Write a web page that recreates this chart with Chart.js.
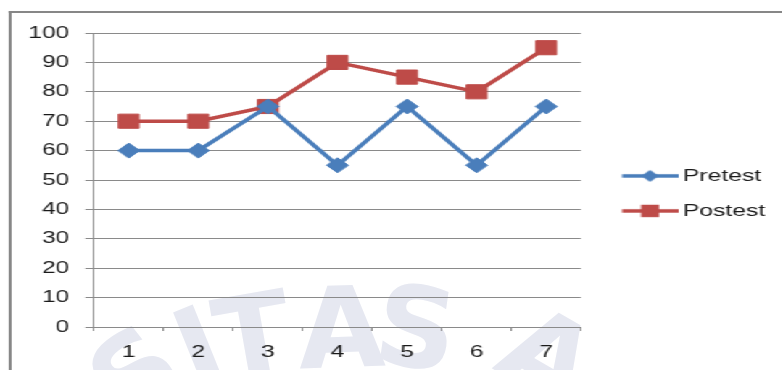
<!DOCTYPE html>
<html>
<head>
<meta charset="utf-8">
<script src="https://cdn.jsdelivr.net/npm/chart.js@4.4.0/dist/chart.umd.min.js"></script>
<style>
    html, body { margin: 0; padding: 0; background: #fff; overflow: hidden; }
    /* faint logo text of the page behind the chart */
    #mark { position: absolute; left: 0; top: 0; width: 782px; height: 370px; overflow: hidden; }
    #mark span { position: absolute; font: bold 112px "DejaVu Sans", sans-serif; color: #e6e8f1;
                 line-height: 1; transform-origin: 50% 50%; }
    /* the source picture is stretched sideways, so draw narrow and widen it */
    #stage { position: absolute; left: 0; top: 0; width: 540px; height: 370px;
             transform: scaleX(1.45); transform-origin: 0 0; }
    #frame { position: absolute; left: 5.5px; top: 11px; width: 600px; height: 400px;
             border-left: 2px solid #878787; border-top: 2px solid #878787; }
    #chart { position: absolute; left: 0; top: 0; width: 540px; height: 370px; }
</style>
</head>
<body>
<div id="mark">
    <span style="left:95px;top:318px;transform:rotate(-38deg)">S</span>
    <span style="left:178px;top:292px;transform:rotate(-22deg)">I</span>
    <span style="left:215px;top:280px;transform:rotate(-10deg)">T</span>
    <span style="left:298px;top:272px;transform:rotate(-2deg)">A</span>
    <span style="left:376px;top:272px;transform:rotate(8deg)">S</span>
    <span style="left:505px;top:300px;transform:rotate(30deg)">A</span>
</div>
<div id="stage">
    <div id="frame"></div>
    <canvas id="chart" width="540" height="370"></canvas>
</div>
<script>
const categories = ["1", "2", "3", "4", "5", "6", "7"];
const pretest = [60, 60, 75, 55, 75, 55, 75];
const postest = [70, 70, 75, 90, 85, 80, 95];
const yTicks = [0, 10, 20, 30, 40, 50, 60, 70, 80, 90, 100];

const BLUE = "#4a7ebb";
const RED = "#be4b48";
const GRID = "#8a8a8a";
const TEXT = "#1a1a1a";
const font = { family: "'Liberation Sans', Arial, sans-serif", size: 17 };

// legend sample: short line with the marker in the middle
function legendIcon(color, shape) {
    const c = document.createElement("canvas");
    c.width = 54; c.height = 18;
    const ctx = c.getContext("2d");
    const x0 = 15.4, x1 = 54, cy = 9, mx = (x0 + x1) / 2;
    ctx.strokeStyle = color;
    ctx.lineWidth = 3.5;
    ctx.beginPath(); ctx.moveTo(x0, cy); ctx.lineTo(x1, cy); ctx.stroke();
    ctx.fillStyle = color;
    ctx.beginPath();
    if (shape === "rect") {
        ctx.rect(mx - 6.2, cy - 6.2, 12.4, 12.4);
    } else {
        ctx.moveTo(mx - 6, cy); ctx.lineTo(mx, cy - 6);
        ctx.lineTo(mx + 6, cy); ctx.lineTo(mx, cy + 6);
        ctx.closePath();
    }
    ctx.fill();
    return c;
}
const icons = [legendIcon(BLUE, "diamond"), legendIcon(RED, "rect")];

new Chart(document.getElementById("chart"), {
    type: "line",
    data: {
        labels: categories,
        datasets: [{
            label: "Pretest",
            data: pretest,
            borderColor: BLUE,
            backgroundColor: BLUE,
            borderWidth: 3.5,
            pointStyle: "rectRot",
            pointRadius: 7.5,
            pointBorderWidth: 1,
            pointBackgroundColor: BLUE,
            pointBorderColor: BLUE,
            tension: 0
        }, {
            label: "Postest",
            data: postest,
            borderColor: RED,
            backgroundColor: RED,
            borderWidth: 3.5,
            pointStyle: "rect",
            pointRadius: 10,
            pointBorderWidth: 1,
            pointBackgroundColor: RED,
            pointBorderColor: RED,
            tension: 0
        }]
    },
    options: {
        responsive: false,
        animation: false,
        layout: { padding: { top: 33, bottom: 0, left: 0, right: 4.3 } },
        plugins: {
            tooltip: { enabled: false },
            legend: {
                position: "right",
                align: "start",
                maxWidth: 135,
                // empty title only pushes the items down to the middle
                title: { display: true, text: "", font: { size: 12 }, padding: { top: 102, bottom: 0 } },
                labels: {
                    usePointStyle: true,
                    pointStyleWidth: 43.8,
                    padding: 18,
                    color: TEXT,
                    font: font,
                    generateLabels: chart =>
                        Chart.defaults.plugins.legend.labels.generateLabels(chart)
                            .map((item, i) => ({ ...item, pointStyle: icons[i] }))
                }
            }
        },
        scales: {
            x: {
                offset: true,
                grid: { offset: true, drawOnChartArea: false, drawTicks: true, tickLength: 4, color: GRID },
                border: { color: GRID, width: 1 },
                ticks: { padding: 11, color: TEXT, font: font },
                afterFit: s => { s.height = 43; }
            },
            y: {
                min: yTicks[0],
                max: yTicks[yTicks.length - 1],
                afterBuildTicks: s => { s.ticks = yTicks.map(v => ({ value: v })); },
                grid: { color: GRID, lineWidth: 1, tickLength: 6 },
                border: { color: GRID, width: 1 },
                ticks: { padding: 11, color: TEXT, font: font },
                afterFit: s => { s.width = 64.8; }
            }
        }
    }
});
</script>
</body>
</html>
